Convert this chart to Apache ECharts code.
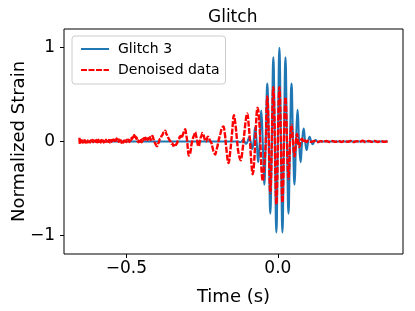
<!DOCTYPE html>
<html><head><meta charset="utf-8">
<script src="https://cdn.jsdelivr.net/npm/echarts@6/dist/echarts.min.js"></script>
<style>html,body{margin:0;padding:0;background:#fff}#c{width:415px;height:311px}</style>
</head><body><div id="c"></div>
<script>
const chartTitle = 'Glitch';
const xName = 'Time (s)';
const yName = 'Normalized Strain';
const seriesNames = ['Glitch 3', 'Denoised data'];
const xTicks = [-0.5, 0.0];
const xTickLabels = ['\u22120.5', '0.0'];
const yTicks = [-1, 0, 1];
const yTickLabels = ['\u22121', '0', '1'];

const glitchTime = [-0.655, -0.13, -0.125, -0.12, -0.115, -0.11, -0.105, -0.1, -0.095, -0.09, -0.085, -0.08, -0.075, -0.07, -0.065, -0.06, -0.055, -0.05, -0.045, -0.04, -0.035, -0.03, -0.025, -0.02, -0.015, -0.01, -0.005, 0, 0.005, 0.01, 0.015, 0.02, 0.025, 0.03, 0.035, 0.04, 0.045, 0.05, 0.055, 0.06, 0.065, 0.07, 0.075, 0.08, 0.085, 0.09, 0.095, 0.1, 0.105, 0.11, 0.115, 0.12, 0.125, 0.13, 0.135, 0.14, 0.15, 0.362];
const glitchValue = [0, 0, -0.008, 0, 0.015, 0, -0.025, 0, 0.045, 0, -0.08, 0, 0.15, 0, -0.22, 0, 0.33, 0, -0.46, 0, 0.62, 0, -0.77, 0, 0.9, 0, -0.97, 0, 1.0, 0, -0.97, 0, 0.9, 0, -0.77, 0, 0.62, 0, -0.46, 0, 0.34, 0, -0.22, 0, 0.14, 0, -0.09, 0, 0.05, 0, -0.03, 0, 0.015, 0, -0.007, 0, 0, 0];

const denoised = [
 [-0.655,0.04],[-0.6535,-0.03],[-0.652,0.02],[-0.65,-0.01],[-0.6475,0.012],[-0.645,-0.012],[-0.6425,0.01],[-0.64,-0.008],
 [-0.6375,0.015],[-0.635,-0.01],[-0.6325,0.008],[-0.63,-0.012],[-0.6275,0.01],[-0.625,-0.006],[-0.6225,0.014],[-0.62,-0.01],
 [-0.6175,0.012],[-0.615,-0.004],[-0.6125,0.016],[-0.61,-0.008],[-0.6075,0.01],[-0.605,-0.012],[-0.6025,0.012],[-0.6,-0.006],
 [-0.5975,0.016],[-0.595,-0.008],[-0.5925,0.018],[-0.59,-0.004],[-0.5875,0.014],[-0.585,-0.01],[-0.5825,0.016],[-0.58,-0.006],
 [-0.5775,0.012],[-0.575,-0.012],[-0.5725,0.014],[-0.57,-0.004],[-0.5675,0.018],[-0.565,0.0],[-0.5625,0.02],[-0.56,-0.002],
 [-0.5575,0.016],[-0.555,-0.01],[-0.5525,0.014],[-0.55,-0.004],[-0.5475,0.016],[-0.545,-0.006],[-0.5425,0.022],[-0.54,0.004],
 [-0.5375,0.03],[-0.535,0.008],[-0.5325,0.032],[-0.53,0.006],[-0.5275,0.022],[-0.525,-0.004],[-0.5225,0.018],[-0.52,-0.008],
 [-0.5175,0.012],[-0.515,-0.014],[-0.5125,0.01],[-0.51,-0.012],[-0.5075,0.012],[-0.505,-0.014],[-0.5025,0.01],[-0.5,-0.006],
 [-0.4975,0.02],[-0.495,0.004],[-0.4925,0.018],[-0.49,-0.006],[-0.4875,0.02],[-0.485,0.012],[-0.4825,0.04],[-0.48,0.03],
 [-0.478,0.065],[-0.476,0.05],[-0.474,0.07],[-0.472,0.035],[-0.47,0.055],[-0.468,0.03],[-0.466,0.04],[-0.464,0.005],
 [-0.462,0.015],[-0.46,-0.008],[-0.4575,0.02],[-0.455,0.0],[-0.4525,0.015],[-0.45,-0.008],[-0.4475,0.025],[-0.445,0.01],
 [-0.4425,0.035],[-0.44,0.01],[-0.4375,0.04],[-0.435,0.025],[-0.4325,0.05],[-0.43,0.015],[-0.4275,0.035],[-0.425,0.02],
 [-0.4225,0.045],[-0.42,0.015],[-0.417,0.05],[-0.414,0.06],[-0.411,0.03],[-0.408,0.0],[-0.405,-0.02],[-0.402,-0.04],
 [-0.399,-0.05],[-0.396,-0.025],[-0.393,-0.01],[-0.39,0.025],[-0.387,0.035],[-0.384,0.06],[-0.381,0.07],[-0.378,0.095],
 [-0.375,0.1],[-0.372,0.115],[-0.369,0.085],[-0.366,0.07],[-0.363,0.045],[-0.36,0.03],[-0.357,0.01],[-0.354,0.0],
 [-0.351,-0.025],[-0.348,-0.02],[-0.345,-0.045],[-0.342,-0.04],[-0.339,-0.055],[-0.336,-0.03],[-0.333,-0.02],[-0.33,0.01],
 [-0.327,0.02],[-0.324,0.05],[-0.321,0.06],[-0.318,0.035],[-0.315,0.06],[-0.312,0.09],[-0.309,0.11],[-0.306,0.13],
 [-0.303,0.08],[-0.3,0.02],[-0.297,-0.08],[-0.294,-0.15],[-0.291,-0.14],[-0.288,-0.1],[-0.285,-0.03],[-0.282,0.01],
 [-0.279,0.05],[-0.276,0.07],[-0.273,0.1],[-0.27,0.06],[-0.267,0.02],[-0.264,-0.04],[-0.261,-0.05],[-0.258,-0.005],
 [-0.255,0.04],[-0.252,0.06],[-0.249,0.09],[-0.246,0.075],[-0.243,0.04],[-0.24,0.01],[-0.237,0.0],[-0.234,0.03],
 [-0.231,0.05],[-0.228,0.04],[-0.225,0.015],[-0.222,0.0],[-0.219,-0.02],[-0.216,-0.06],[-0.213,-0.1],[-0.21,-0.12],
 [-0.207,-0.14],[-0.204,-0.11],[-0.201,-0.07],[-0.198,-0.03],[-0.195,0.02],[-0.19,0.08],[-0.185,0.14],[-0.18,0.16],
 [-0.175,0.08],[-0.17,-0.08],[-0.163,-0.23],[-0.157,-0.1],[-0.151,0.1],[-0.145,0.28],[-0.14,0.18],[-0.135,0.02],
 [-0.13,-0.12],[-0.123,-0.2],[-0.117,-0.1],[-0.111,0.08],[-0.105,0.25],[-0.101,0.3],[-0.097,0.2],[-0.092,0.0],
 [-0.087,-0.25],[-0.083,-0.35],[-0.079,-0.25],[-0.074,0.05],[-0.07,0.3],[-0.067,0.36],[-0.063,0.28],[-0.058,0.0],
 [-0.054,-0.3],[-0.05,-0.42],[-0.046,-0.3],[-0.04,0.0],[-0.0375,0.34],[-0.035,0.48],[-0.0325,0.34],[-0.03,0.0],
 [-0.0275,-0.39],[-0.025,-0.55],[-0.0225,-0.39],[-0.02,0.0],[-0.0175,0.41],[-0.015,0.58],[-0.0125,0.41],[-0.01,0.0],
 [-0.0075,-0.47],[-0.005,-0.67],[-0.0025,-0.47],[0,0.0],[0.0025,0.41],[0.005,0.58],[0.0075,0.41],[0.01,0.0],
 [0.0125,-0.46],[0.015,-0.65],[0.0175,-0.46],[0.02,0.0],[0.0225,0.33],[0.025,0.47],[0.0275,0.33],[0.03,0.0],
 [0.0325,-0.28],[0.035,-0.4],[0.0375,-0.28],[0.04,0.0],[0.0425,0.12],[0.045,0.18],[0.0475,0.1],[0.05,0.0],
 [0.055,-0.16],[0.06,0.02],[0.063,0.08],[0.067,-0.02],[0.071,-0.06],[0.075,0.01],[0.08,0.03],[0.085,-0.01],
 [0.09,0.01],[0.095,-0.005],[0.1,0.008],[0.11,-0.004],[0.12,0.006],[0.13,-0.006],[0.14,0.004],[0.15,-0.003],
 [0.16,0.006],[0.17,-0.005],[0.18,0.005],[0.19,-0.004],[0.2,0.006],[0.21,-0.006],[0.22,0.005],[0.23,-0.003],
 [0.24,0.007],[0.25,-0.005],[0.26,0.004],[0.27,-0.004],[0.28,0.008],[0.29,-0.006],[0.3,0.006],[0.31,-0.004],
 [0.32,0.005],[0.33,-0.005],[0.34,0.006],[0.35,-0.004],[0.362,0.003]
];

const font = 'DejaVu Sans';
const chart = echarts.init(document.getElementById('c'), null, {renderer: 'canvas'});
chart.setOption({
  animation: false,
  backgroundColor: '#fff',
  title: {
    text: chartTitle, left: 203, top: 4,
    textStyle: {fontFamily: font, fontSize: 17, fontWeight: 'normal', color: '#000'}
  },
  legend: {
    orient: 'vertical', left: 72, top: 36,
    itemWidth: 28, itemHeight: 14, itemGap: 7,
    padding: [6, 6, 7, 8],
    backgroundColor: 'rgba(255,255,255,0.8)',
    borderColor: '#cccccc', borderWidth: 1, borderRadius: 3,
    itemStyle: {opacity: 0},
    textStyle: {fontFamily: font, fontSize: 14, color: '#000', padding: [0, 0, 0, 4]},
    data: seriesNames
  },
  grid: {
    left: 64, right: 12, top: 29, bottom: 57,
    outerBoundsMode: 'none', containLabel: false,
    show: true, borderColor: '#000', borderWidth: 1, backgroundColor: 'transparent'
  },
  xAxis: {
    type: 'value', min: -0.706, max: 0.413,
    name: xName, nameLocation: 'middle', nameGap: 34,
    nameTextStyle: {fontFamily: font, fontSize: 18, color: '#000'},
    axisLine: {show: false, onZero: false},
    splitLine: {show: false},
    axisTick: {show: true, inside: false, length: 4, lineStyle: {color: '#000'}, customValues: xTicks},
    axisLabel: {
      customValues: xTicks, margin: 6, fontFamily: font, fontSize: 17, color: '#000',
      formatter: v => { const i = xTicks.findIndex(t => Math.abs(t - v) < 1e-9); return i >= 0 ? xTickLabels[i] : ''; }
    }
  },
  yAxis: {
    type: 'value', min: -1.2, max: 1.2,
    name: yName, nameLocation: 'middle', nameGap: 36, nameRotate: 90, nameMoveOverlap: false,
    nameTextStyle: {fontFamily: font, fontSize: 18, color: '#000'},
    axisLine: {show: false, onZero: false},
    splitLine: {show: false},
    axisTick: {show: true, inside: false, length: 4, lineStyle: {color: '#000'}, customValues: yTicks},
    axisLabel: {
      customValues: yTicks, margin: 9, fontFamily: font, fontSize: 17, color: '#000',
      formatter: v => { const i = yTicks.findIndex(t => Math.abs(t - v) < 1e-9); return i >= 0 ? yTickLabels[i] : ''; }
    }
  },
  series: [
    {
      name: seriesNames[0], type: 'line', showSymbol: false, symbol: 'none', smooth: 0.5,
      data: glitchTime.map((t, i) => [t, glitchValue[i]]),
      lineStyle: {color: '#1f77b4', width: 2}, itemStyle: {color: '#1f77b4'}, z: 2
    },
    {
      name: seriesNames[1], type: 'line', showSymbol: false, symbol: 'none', smooth: 0.4,
      data: denoised,
      lineStyle: {color: '#ff0000', width: 2.4, type: [6, 1.5]}, itemStyle: {color: '#ff0000'}, z: 3
    }
  ]
});
</script></body></html>
